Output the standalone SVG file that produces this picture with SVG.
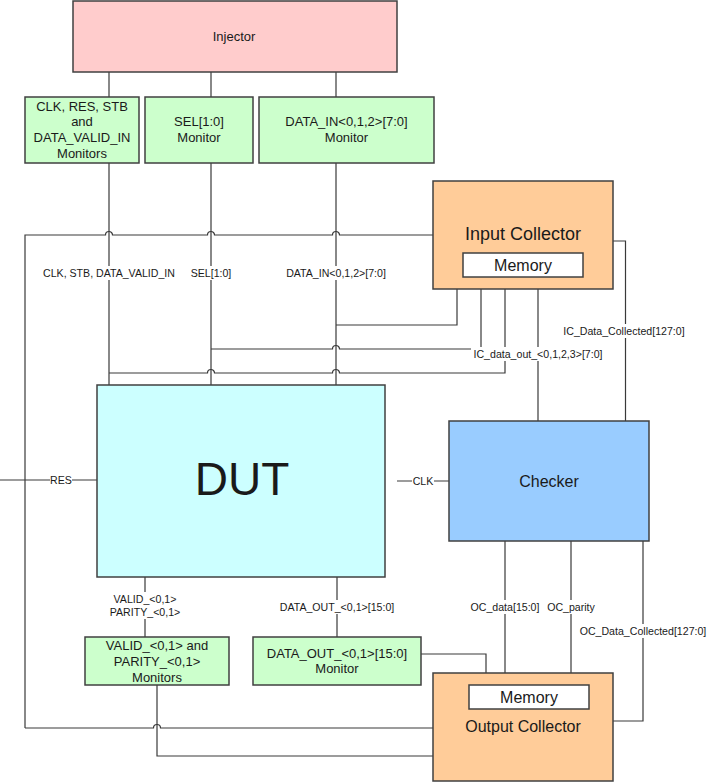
<svg xmlns="http://www.w3.org/2000/svg" width="709" height="782" viewBox="0 0 709 782">
<style>
.box{stroke:#404040;stroke-width:1.5}
.inj{fill:#FFCCCC}
.mon{fill:#CCFFCC}
.col{fill:#FFCC99}
.dut{fill:#CCFFFF}
.chk{fill:#99CCFF}
.mem{fill:#FFFFFF}
.w{fill:#FFFFFF;stroke:none}
text{font-family:"Liberation Sans",Arial,sans-serif;fill:#1a1a1a;text-anchor:middle;dominant-baseline:central}
.t13{font-size:13px}
.t16{font-size:16px}
.t18{font-size:18px}
.lbl{font-size:10.6px}
.wire{fill:none;stroke:#3a3a3a;stroke-width:1.2}
</style>
<rect width="709" height="782" fill="#FFFFFF"/>
<g id="connectors" class="wire">
<path d="M109,72 V97 M211,72 V97 M336,72 V97"/>
<path d="M109,163 V385 M211,163 V385 M336,163 V385"/>
<path d="M25,728 V235 H105.5 A3.5,3.5 0 0 1 112.5,235 H207.5 A3.5,3.5 0 0 1 214.5,235 H332.5 A3.5,3.5 0 0 1 339.5,235 H433"/>
<path d="M25,728 H153.5 A3.5,3.5 0 0 1 160.5,728 H433"/>
<path d="M457,289 V325 H336"/>
<path d="M481,289 V349 H339.5 A3.5,3.5 0 0 0 332.5,349 H211"/>
<path d="M505,289 V373 H339.5 A3.5,3.5 0 0 0 332.5,373 H214.5 A3.5,3.5 0 0 0 207.5,373 H109"/>
<path d="M538,289 V421"/>
<path d="M613,241 H625.5 V421"/>
<path d="M0,480 H97"/>
<path d="M397,481 H449"/>
<path d="M145,577 V637 M337,577 V637"/>
<path d="M505,541 V673 M571,541 V673"/>
<path d="M643,541 V721 H613"/>
<path d="M421,654 H486 V673"/>
<path d="M157,685 V756 H433"/>
</g>
<g id="labels">
<rect class="w" x="39" y="266" width="140" height="14"/>
<text class="lbl" x="109" y="273">CLK, STB, DATA_VALID_IN</text>
<rect class="w" x="189" y="266" width="44" height="14"/>
<text class="lbl" x="211" y="273">SEL[1:0]</text>
<rect class="w" x="283" y="266" width="106" height="14"/>
<text class="lbl" x="336" y="273">DATA_IN&lt;0,1,2&gt;[7:0]</text>
<rect class="w" x="471" y="347" width="134" height="14"/>
<text class="lbl" x="538" y="354">IC_data_out_&lt;0,1,2,3&gt;[7:0]</text>
<rect class="w" x="562" y="324" width="125" height="14"/>
<text class="lbl" x="624" y="331">IC_Data_Collected[127:0]</text>
<rect class="w" x="50" y="474" width="22" height="13"/>
<text class="lbl" x="61" y="480">RES</text>
<rect class="w" x="412" y="475" width="22" height="13"/>
<text class="lbl" x="423" y="481">CLK</text>
<rect class="w" x="107" y="592" width="76" height="27"/>
<text class="lbl" x="145" y="599">VALID_&lt;0,1&gt;</text>
<text class="lbl" x="145" y="612">PARITY_&lt;0,1&gt;</text>
<rect class="w" x="277" y="600" width="120" height="14"/>
<text class="lbl" x="337" y="607">DATA_OUT_&lt;0,1&gt;[15:0]</text>
<rect class="w" x="468" y="600" width="73" height="14"/>
<text class="lbl" x="505" y="607">OC_data[15:0]</text>
<rect class="w" x="545" y="600" width="52" height="14"/>
<text class="lbl" x="571" y="607">OC_parity</text>
<rect class="w" x="577" y="624" width="131" height="14"/>
<text class="lbl" x="643" y="631">OC_Data_Collected[127:0]</text>
</g>
<g id="injector">
<rect class="box inj" x="73" y="1" width="324" height="71"/>
<text class="t13" x="234" y="36">Injector</text>
</g>
<g id="mon-clk">
<rect class="box mon" x="25" y="97" width="114" height="66"/>
<text class="t13" x="82" y="106">CLK, RES, STB</text>
<text class="t13" x="82" y="121.7">and</text>
<text class="t13" x="82" y="137.4">DATA_VALID_IN</text>
<text class="t13" x="82" y="153.1">Monitors</text>
</g>
<g id="mon-sel">
<rect class="box mon" x="145" y="97" width="108" height="66"/>
<text class="t13" x="199" y="121.7">SEL[1:0]</text>
<text class="t13" x="199" y="137.4">Monitor</text>
</g>
<g id="mon-datain">
<rect class="box mon" x="259" y="97" width="175" height="66"/>
<text class="t13" x="346.5" y="121.7">DATA_IN&lt;0,1,2&gt;[7:0]</text>
<text class="t13" x="346.5" y="137.4">Monitor</text>
</g>
<g id="input-collector">
<rect class="box col" x="433" y="181" width="180" height="108"/>
<text class="t18" x="523" y="234">Input Collector</text>
<rect class="box mem" x="463" y="253" width="120" height="24"/>
<text class="t16" x="523" y="265">Memory</text>
</g>
<g id="dut">
<rect class="box dut" x="97" y="385" width="288" height="192"/>
<text x="242" y="479" style="font-size:46px">DUT</text>
</g>
<g id="checker">
<rect class="box chk" x="449" y="421" width="200" height="120"/>
<text class="t16" x="549" y="481">Checker</text>
</g>
<g id="mon-valid">
<rect class="box mon" x="85" y="637" width="144" height="48"/>
<text class="t13" x="157" y="645">VALID_&lt;0,1&gt; and</text>
<text class="t13" x="157" y="661">PARITY_&lt;0,1&gt;</text>
<text class="t13" x="157" y="677">Monitors</text>
</g>
<g id="mon-dataout">
<rect class="box mon" x="253" y="637" width="168" height="48"/>
<text class="t13" x="337" y="653">DATA_OUT_&lt;0,1&gt;[15:0]</text>
<text class="t13" x="337" y="668.5">Monitor</text>
</g>
<g id="output-collector">
<rect class="box col" x="433" y="673" width="180" height="108"/>
<rect class="box mem" x="469" y="685" width="120" height="24"/>
<text class="t16" x="529" y="697">Memory</text>
<text class="t16" x="523" y="726">Output Collector</text>
</g>
</svg>
